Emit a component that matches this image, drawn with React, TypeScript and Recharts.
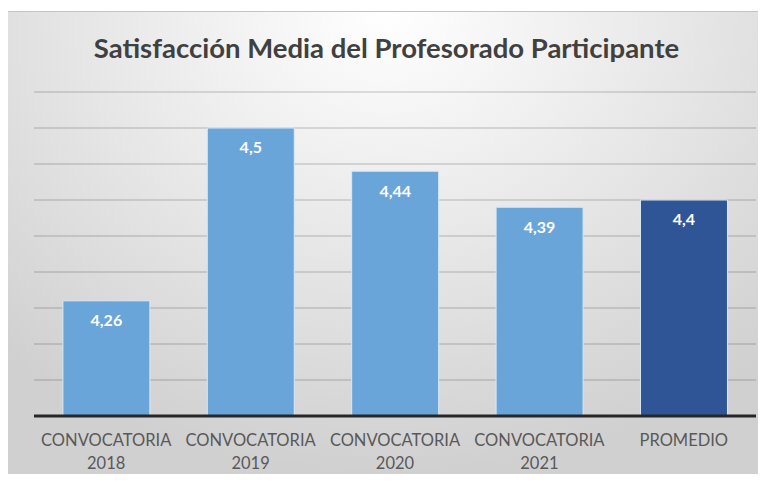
import { BarChart, Bar, XAxis, YAxis, CartesianGrid, LabelList, Cell } from 'recharts'

const categories = ['CONVOCATORIA 2018', 'CONVOCATORIA 2019', 'CONVOCATORIA 2020', 'CONVOCATORIA 2021', 'PROMEDIO']
const values = [4.26, 4.5, 4.44, 4.39, 4.4]
const barColors = ['#6aa5da', '#6aa5da', '#6aa5da', '#6aa5da', '#2f5597']
const yTicks = [4.1, 4.15, 4.2, 4.25, 4.3, 4.35, 4.4, 4.45, 4.5, 4.55]

const data = categories.map((name, i) => ({ name, value: values[i] }))

const FONT = 'Lato, "Open Sans", sans-serif'

function CategoryTick(props: any) {
  const { x, y, payload } = props
  const words = String(payload.value).split(' ')
  return (
    <text x={x} y={y} textAnchor="middle" fill="#595959" fontSize={16.5} fontFamily={FONT}>
      {words.map((w: string, i: number) => (
        <tspan key={i} x={x} dy={i === 0 ? 22 : 23}>{w}</tspan>
      ))}
    </text>
  )
}

export default function App() {
  return (
    <div style={{ position: 'relative', width: 766, height: 483, margin: -8, background: '#ffffff', overflow: 'hidden' }}>
      <div
        style={{
          position: 'absolute',
          left: 7,
          top: 11,
          width: 759,
          height: 462,
          background: 'radial-gradient(ellipse 75% 100% at 50% 0%, #ffffff 0%, #e8e8e8 50%, #d0d0d0 100%)',
          borderTop: '1px solid #c4c4c4',
        }}
      >
        <div
          style={{
            position: 'absolute',
            top: 19,
            left: 0,
            width: 759,
            textAlign: 'center',
            fontFamily: FONT,
            fontWeight: 700,
            fontSize: 27.5,
            color: '#404040',
          }}
        >
          Satisfacción Media del Profesorado Participante
        </div>
        <BarChart
          width={759}
          height={462}
          data={data}
          margin={{ top: 80, right: 10, bottom: 0, left: 27 }}
          barCategoryGap="20%"
        >
          <CartesianGrid vertical={false} stroke="#000000" strokeOpacity={0.16} strokeWidth={1.5} />
          <YAxis hide domain={[4.1, 4.55]} ticks={yTicks} type="number" allowDataOverflow />
          <XAxis
            dataKey="name"
            height={58}
            tick={<CategoryTick />}
            tickLine={false}
            axisLine={{ stroke: '#262626', strokeWidth: 3 }}
            interval={0}
          />
          <Bar dataKey="value" isAnimationActive={false} stroke="#dce9f6" strokeWidth={1}>
            {data.map((_, i) => (
              <Cell key={i} fill={barColors[i]} />
            ))}
            <LabelList
              dataKey="value"
              position="insideTop"
              offset={14}
              fill="#ffffff"
              fontSize={16}
              fontWeight={700}
              fontFamily={FONT}
              formatter={(v: any) => String(v).replace('.', ',')}
            />
          </Bar>
        </BarChart>
      </div>
    </div>
  )
}
